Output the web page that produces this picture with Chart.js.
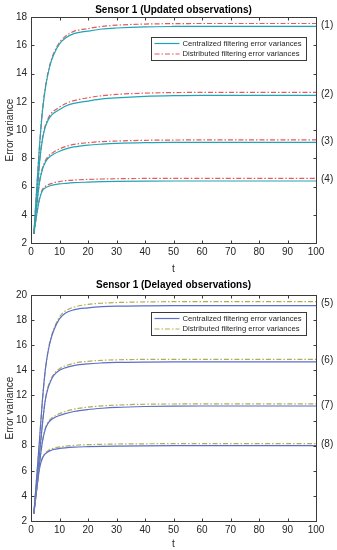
<!DOCTYPE html>
<html>
<head>
<meta charset="utf-8">
<script src="https://cdn.jsdelivr.net/npm/chart.js@4.4.1/dist/chart.umd.min.js"></script>
<style>
    body { margin: 0; background: #fff; }
    .panel { width: 337px; height: 275px; }
</style>
</head>
<body>
<div class="panel"><canvas id="updatedChart" width="337" height="275"></canvas></div>
<div class="panel"><canvas id="delayedChart" width="337" height="275"></canvas></div>
<script>
// --- DATA ---
const tSteps = [1, 2, 3, 4, 5, 6, 7, 8, 10, 12, 15, 20, 25, 30, 40, 50, 60, 70, 80, 90, 100];

// updated observations: centralized (c) and distributed (d), curves (1)-(4)
const upC1 = [2.65, 5.8, 8.9, 11.3, 12.9, 14.0, 14.8, 15.35, 16.1, 16.5, 16.82, 17.0, 17.15, 17.22, 17.3, 17.33, 17.34, 17.34, 17.34, 17.34, 17.34];
const upD1 = [2.65, 5.8, 8.9, 11.35, 13.0, 14.1, 14.9, 15.45, 16.2, 16.62, 16.98, 17.18, 17.33, 17.42, 17.5, 17.53, 17.54, 17.54, 17.54, 17.54, 17.54];
const upC2 = [2.65, 5.0, 7.7, 9.3, 10.2, 10.7, 11.0, 11.2, 11.45, 11.68, 11.88, 12.05, 12.2, 12.28, 12.38, 12.43, 12.45, 12.45, 12.45, 12.45, 12.45];
const upD2 = [2.65, 5.0, 7.75, 9.4, 10.3, 10.82, 11.15, 11.35, 11.62, 11.86, 12.08, 12.28, 12.43, 12.52, 12.61, 12.65, 12.66, 12.67, 12.67, 12.67, 12.67];
const upC3 = [2.65, 4.6, 6.3, 7.2, 7.7, 8.0, 8.17, 8.3, 8.5, 8.65, 8.8, 8.93, 9.0, 9.05, 9.1, 9.12, 9.12, 9.12, 9.12, 9.12, 9.12];
const upD3 = [2.65, 4.62, 6.38, 7.3, 7.82, 8.13, 8.31, 8.45, 8.66, 8.82, 8.98, 9.1, 9.18, 9.22, 9.27, 9.29, 9.3, 9.3, 9.3, 9.3, 9.3];
const upC4 = [2.65, 4.0, 5.1, 5.7, 5.9, 6.0, 6.07, 6.12, 6.18, 6.22, 6.27, 6.31, 6.34, 6.36, 6.38, 6.39, 6.39, 6.39, 6.39, 6.39, 6.39];
const upD4 = [2.65, 4.02, 5.15, 5.78, 6.0, 6.12, 6.2, 6.27, 6.35, 6.41, 6.46, 6.5, 6.53, 6.55, 6.57, 6.58, 6.58, 6.58, 6.58, 6.58, 6.58];

// delayed observations, curves (5)-(8)
const dlC5 = [2.6, 5.5, 8.5, 11.6, 14.0, 15.5, 16.5, 17.2, 18.1, 18.55, 18.82, 18.98, 19.07, 19.11, 19.14, 19.15, 19.15, 19.15, 19.15, 19.15, 19.15];
const dlD5 = [2.6, 5.5, 8.5, 11.6, 14.0, 15.6, 16.6, 17.3, 18.25, 18.72, 19.03, 19.25, 19.35, 19.4, 19.45, 19.47, 19.48, 19.48, 19.48, 19.48, 19.48];
const dlC6 = [2.6, 5.0, 7.4, 9.7, 11.6, 12.6, 13.2, 13.6, 14.0, 14.2, 14.38, 14.52, 14.59, 14.63, 14.66, 14.67, 14.67, 14.67, 14.67, 14.67, 14.67];
const dlD6 = [2.6, 5.0, 7.4, 9.72, 11.65, 12.7, 13.3, 13.7, 14.12, 14.35, 14.56, 14.72, 14.8, 14.84, 14.87, 14.88, 14.88, 14.88, 14.88, 14.88, 14.88];
const dlC7 = [2.6, 4.6, 6.6, 8.3, 9.3, 9.8, 10.05, 10.2, 10.4, 10.55, 10.72, 10.88, 10.98, 11.05, 11.12, 11.15, 11.16, 11.16, 11.16, 11.16, 11.16];
const dlD7 = [2.6, 4.6, 6.62, 8.35, 9.35, 9.88, 10.15, 10.32, 10.55, 10.72, 10.9, 11.07, 11.17, 11.23, 11.3, 11.32, 11.33, 11.33, 11.33, 11.33, 11.33];
const dlC8 = [2.6, 4.5, 6.2, 7.0, 7.35, 7.52, 7.62, 7.7, 7.78, 7.83, 7.88, 7.92, 7.95, 7.97, 7.99, 8.0, 8.0, 8.0, 8.0, 8.0, 8.0];
const dlD8 = [2.6, 4.5, 6.22, 7.05, 7.42, 7.6, 7.71, 7.8, 7.9, 7.96, 8.02, 8.08, 8.11, 8.13, 8.15, 8.16, 8.16, 8.16, 8.16, 8.16, 8.16];

const legendNames = ['Centralized filtering error variances', 'Distributed filtering error variances'];
const upTags = ['(1)', '(2)', '(3)', '(4)'];
const dlTags = ['(5)', '(6)', '(7)', '(8)'];

const FONT = '"Liberation Sans", Arial, Helvetica, sans-serif';
const INK = '#262626';

// --- FRAME, TITLE, LEGEND BOX, CURVE TAGS ---
const matlabFrame = {
    id: 'matlabFrame',
    afterDraw(chart, args, opts) {
        const { ctx, chartArea: a } = chart;
        const xs = chart.scales.x, ys = chart.scales.y;
        const L = Math.round(a.left) + 0.5, R = Math.round(a.right) + 0.5;
        const T = Math.round(a.top) + 0.5, B = Math.round(a.bottom) + 0.5;
        ctx.save();
        ctx.strokeStyle = '#3a3a3a';
        ctx.lineWidth = 1;
        ctx.strokeRect(L, T, R - L, B - T);

        // inward ticks on all four sides
        ctx.beginPath();
        xs.ticks.forEach(t => {
            const px = Math.round(xs.getPixelForValue(t.value)) + 0.5;
            ctx.moveTo(px, B); ctx.lineTo(px, B - 3);
            ctx.moveTo(px, T); ctx.lineTo(px, T + 3);
        });
        ys.ticks.forEach(t => {
            const py = Math.round(ys.getPixelForValue(t.value)) + 0.5;
            ctx.moveTo(L, py); ctx.lineTo(L + 3, py);
            ctx.moveTo(R, py); ctx.lineTo(R - 3, py);
        });
        ctx.stroke();

        // title
        ctx.fillStyle = '#000';
        ctx.font = 'bold 10px ' + FONT;
        ctx.textAlign = 'center';
        ctx.textBaseline = 'middle';
        ctx.fillText(opts.title, (a.left + a.right) / 2, opts.titleY);

        // legend box
        const ds = chart.data.datasets;
        const bw = 155, bh = 23;
        const bx = Math.round(a.right - 10 - bw) + 0.5;
        const by = Math.round(a.top + opts.legendTop) + 0.5;
        ctx.fillStyle = '#fff';
        ctx.fillRect(bx, by, bw, bh);
        ctx.strokeStyle = '#3a3a3a';
        ctx.strokeRect(bx, by, bw, bh);
        ctx.font = '7.7px ' + FONT;
        ctx.textAlign = 'left';
        legendNames.forEach((name, i) => {
            const ly = by + 6 + i * 10.5;
            ctx.strokeStyle = ds[i].borderColor;
            ctx.lineWidth = ds[i].borderWidth;
            ctx.setLineDash(ds[i].borderDash || []);
            ctx.beginPath();
            ctx.moveTo(bx + 3, ly); ctx.lineTo(bx + 28, ly);
            ctx.stroke();
            ctx.setLineDash([]);
            ctx.fillStyle = INK;
            ctx.fillText(name, bx + 31, ly);
        });

        // curve tags at the right edge
        ctx.font = '10px ' + FONT;
        ctx.fillStyle = INK;
        opts.tags.forEach((tag, i) => {
            const c = ds[2 * i].data, d = ds[2 * i + 1].data;
            const v = (c[c.length - 1].y + d[d.length - 1].y) / 2;
            ctx.fillText(tag, a.right + 5, ys.getPixelForValue(v));
        });
        ctx.restore();
    }
};

function pts(values) {
    return tSteps.map((t, i) => ({ x: t, y: values[i] }));
}

function buildChart(id, pairs, colors, yMax, topPad, title, tags, legendTop) {
    const datasets = [];
    pairs.forEach(([c, d]) => {
        datasets.push({ label: legendNames[0], data: pts(c), borderColor: colors[0], borderWidth: 1.2 });
        datasets.push({ label: legendNames[1], data: pts(d), borderColor: colors[1], borderWidth: 1.2, borderDash: [5, 2, 1.5, 2] });
    });
    return new Chart(document.getElementById(id), {
        type: 'line',
        data: { datasets },
        options: {
            responsive: false,
            animation: false,
            events: [],
            elements: { point: { radius: 0 }, line: { cubicInterpolationMode: 'monotone' } },
            layout: { padding: { top: topPad, right: 21, left: 0, bottom: 0 } },
            scales: {
                x: {
                    type: 'linear', min: 0, max: 100,
                    ticks: { stepSize: 10, padding: 3, color: INK, font: { family: FONT, size: 10 }, maxRotation: 0 },
                    grid: { display: false, drawTicks: false },
                    border: { display: false },
                    title: { display: true, text: 't', color: INK, font: { family: FONT, size: 10 }, padding: { top: 1, bottom: 0 } },
                    afterFit: s => { s.height = 275 - topPad - 226; }
                },
                y: {
                    min: 2, max: yMax,
                    ticks: { stepSize: 2, padding: 4, color: INK, font: { family: FONT, size: 10 } },
                    grid: { display: false, drawTicks: false },
                    border: { display: false },
                    title: { display: true, text: 'Error variance', color: INK, font: { family: FONT, size: 10 }, padding: { top: 4, bottom: 0 } },
                    afterFit: s => { s.width = 31; }
                }
            },
            plugins: {
                legend: { display: false },
                tooltip: { enabled: false },
                matlabFrame: { title, titleY: 10, tags, legendTop }
            }
        },
        plugins: [matlabFrame]
    });
}

document.addEventListener('DOMContentLoaded', () => {
    buildChart('updatedChart',
        [[upC1, upD1], [upC2, upD2], [upC3, upD3], [upC4, upD4]],
        ['#1fa6b6', '#e8585c'], 18, 17,
        'Sensor 1 (Updated observations)', upTags, 20);
    buildChart('delayedChart',
        [[dlC5, dlD5], [dlC6, dlD6], [dlC7, dlD7], [dlC8, dlD8]],
        ['#5b6fcb', '#b2ae4c'], 20, 20,
        'Sensor 1 (Delayed observations)', dlTags, 17);
});
</script>
</body>
</html>
